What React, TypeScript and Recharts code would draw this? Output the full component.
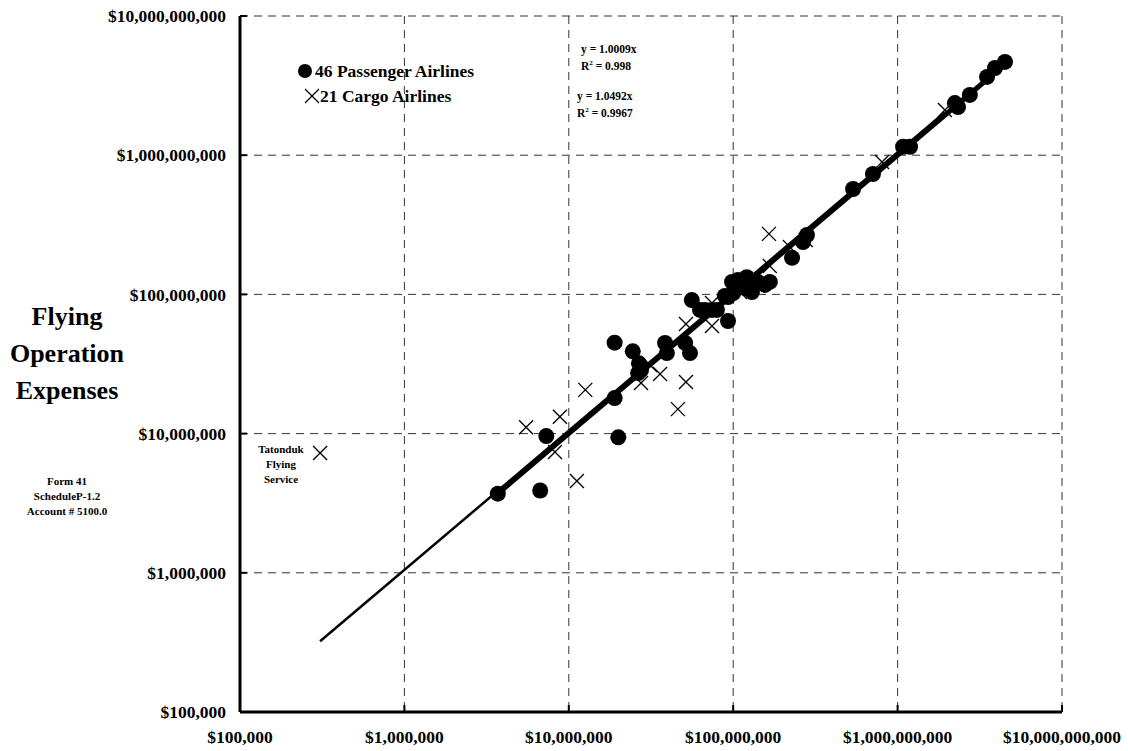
import React from "react"
import { ScatterChart, Scatter, XAxis, YAxis, CartesianGrid } from "recharts"

// [x, y] in dollars
const passengerAirlines: [number, number][] = [
  [3.7e6, 3.7e6], [6.7e6, 3.9e6], [7.3e6, 9.6e6], [2.0e7, 9.4e6], [1.9e7, 1.8e7],
  [1.9e7, 4.5e7], [2.45e7, 3.9e7], [2.67e7, 3.2e7], [2.75e7, 2.86e7], [2.64e7, 2.72e7],
  [3.85e7, 4.48e7], [3.95e7, 3.79e7], [5.1e7, 4.48e7], [5.46e7, 3.79e7], [5.6e7, 9.1e7],
  [6.28e7, 7.73e7], [6.73e7, 7.73e7], [7.43e7, 7.73e7], [7.96e7, 7.73e7], [9.3e7, 6.44e7],
  [8.9e7, 9.75e7], [9.3e7, 9.57e7], [9.84e7, 1.23e8], [1.0e8, 1.02e8], [1.07e8, 1.27e8],
  [1.1e8, 1.13e8], [1.18e8, 1.11e8], [1.21e8, 1.33e8], [1.26e8, 1.21e8], [1.3e8, 1.04e8],
  [1.41e8, 1.23e8], [1.56e8, 1.17e8], [1.67e8, 1.23e8], [2.28e8, 1.83e8], [2.66e8, 2.38e8],
  [2.81e8, 2.67e8], [5.36e8, 5.72e8], [7.08e8, 7.33e8], [1.08e9, 1.15e9], [1.19e9, 1.15e9],
  [2.23e9, 2.37e9], [2.33e9, 2.22e9], [2.75e9, 2.71e9], [3.5e9, 3.65e9], [3.91e9, 4.23e9],
  [4.5e9, 4.68e9],
]

const cargoAirlines: [number, number][] = [
  [3.07e5, 7.26e6], [5.5e6, 1.11e7], [8.83e6, 1.32e7], [1.26e7, 2.06e7], [8.24e6, 7.38e6],
  [1.12e7, 4.56e6], [2.75e7, 2.31e7], [3.59e7, 2.68e7], [5.16e7, 2.35e7], [4.61e7, 1.5e7],
  [5.16e7, 6.13e7], [7.43e7, 5.93e7], [7.43e7, 8.67e7], [3.12e7, 3.11e7], [1.1e8, 1.04e8],
  [1.65e8, 2.72e8], [1.67e8, 1.6e8], [2.21e8, 2.19e8], [2.76e8, 2.46e8], [8.04e8, 8.93e8],
  [1.94e9, 2.11e9],
]

// trend line end points
const passengerFit: [number, number][] = [[3.7e6, 3.7e6], [4.5e9, 4.5e9]]
const cargoFit: [number, number][] = [[3.07e5, 3.22e5], [1.94e9, 2.04e9]]

const axisTicks = [1e5, 1e6, 1e7, 1e8, 1e9, 1e10]

const toPoints = (rows: [number, number][]) => rows.map(([x, y]) => ({ x, y }))

const serif = "'Liberation Serif', 'Times New Roman', serif"
const money = (v: number) => "$" + Math.round(v).toString().replace(/\B(?=(\d{3})+(?!\d))/g, ",")

const XTick = ({ x, y, payload }: any) => (
  <g>
    <line x1={x} x2={x} y1={y} y2={y - 7} stroke="#000" strokeWidth={2} />
    <text x={x} y={y + 31} textAnchor="middle" fontFamily={serif} fontWeight="bold" fontSize={17.5} fill="#000">
      {money(payload.value)}
    </text>
  </g>
)

const YTick = ({ x, y, payload }: any) => (
  <g>
    <line x1={x} x2={x + 7} y1={y} y2={y} stroke="#000" strokeWidth={2} />
    <text x={x - 14} y={y} dy="0.35em" textAnchor="end" fontFamily={serif} fontWeight="bold" fontSize={17.5} fill="#000">
      {money(payload.value)}
    </text>
  </g>
)

const Dot = ({ cx, cy }: any) => <circle cx={cx} cy={cy} r={8} fill="#000" />

const Cross = ({ cx, cy }: any) => (
  <g stroke="#000" strokeWidth={1.3}>
    <line x1={cx - 7} y1={cy - 7} x2={cx + 7} y2={cy + 7} />
    <line x1={cx - 7} y1={cy + 7} x2={cx + 7} y2={cy - 7} />
  </g>
)

const NoShape = () => <g />

export default function App() {
  const small = { fontFamily: serif, fontWeight: "bold" as const, fontSize: 11, fill: "#000" }
  const eq = { fontFamily: serif, fontWeight: "bold" as const, fontSize: 11.5, fill: "#000" }
  return (
    <div style={{ position: "absolute", left: 0, top: 0, width: 1128, height: 751, background: "#fff" }}>
      <ScatterChart width={1128} height={751} margin={{ top: 16, right: 66, bottom: 0, left: 0 }}>
        <CartesianGrid stroke="#333" strokeDasharray="8 6" />
        <XAxis
          type="number"
          dataKey="x"
          scale="log"
          domain={[1e5, 1e10]}
          ticks={axisTicks}
          allowDataOverflow
          height={39}
          tickSize={0}
          tickMargin={0}
          tickLine={false}
          axisLine={{ stroke: "#000", strokeWidth: 3 }}
          tick={<XTick />}
        />
        <YAxis
          type="number"
          dataKey="y"
          scale="log"
          domain={[1e5, 1e10]}
          ticks={axisTicks}
          allowDataOverflow
          width={240}
          tickSize={0}
          tickMargin={0}
          tickLine={false}
          axisLine={{ stroke: "#000", strokeWidth: 3 }}
          tick={<YTick />}
        />
        <Scatter data={toPoints(cargoFit)} line={{ stroke: "#000", strokeWidth: 2.5 }} shape={NoShape} isAnimationActive={false} />
        <Scatter data={toPoints(passengerFit)} line={{ stroke: "#000", strokeWidth: 5 }} shape={NoShape} isAnimationActive={false} />
        <Scatter data={toPoints(passengerAirlines)} shape={Dot} isAnimationActive={false} />
        <Scatter data={toPoints(cargoAirlines)} shape={Cross} isAnimationActive={false} />
      </ScatterChart>

      <svg width={1128} height={751} style={{ position: "absolute", left: 0, top: 0, pointerEvents: "none" }}>
        <g fontFamily={serif} fontWeight="bold" fontSize={26} fill="#000" textAnchor="middle">
          <text x={67} y={325}>Flying</text>
          <text x={67} y={362}>Operation</text>
          <text x={67} y={399}>Expenses</text>
        </g>
        <g {...small} textAnchor="middle">
          <text x={67} y={485}>Form 41</text>
          <text x={67} y={500}>ScheduleP-1.2</text>
          <text x={67} y={515}>Account # 5100.0</text>
          <text x={281} y={453}>Tatonduk</text>
          <text x={281} y={468}>Flying</text>
          <text x={281} y={483}>Service</text>
        </g>

        <circle cx={305} cy={71} r={7} fill="#000" />
        <text x={315} y={71} dy="0.35em" fontFamily={serif} fontWeight="bold" fontSize={17.5} fill="#000">46 Passenger Airlines</text>
        <g stroke="#000" strokeWidth={1.3}>
          <line x1={305} y1={89} x2={319} y2={103} />
          <line x1={305} y1={103} x2={319} y2={89} />
        </g>
        <text x={320} y={96} dy="0.35em" fontFamily={serif} fontWeight="bold" fontSize={17.5} fill="#000">21 Cargo Airlines</text>

        <text x={581} y={49} dy="0.35em" {...eq}>y = 1.0009x</text>
        <text x={581} y={66} dy="0.35em" {...eq}>R<tspan fontSize={7} dy={-5}>2</tspan><tspan dy={5}> = 0.998</tspan></text>
        <text x={577} y={96} dy="0.35em" {...eq}>y = 1.0492x</text>
        <text x={577} y={113} dy="0.35em" {...eq}>R<tspan fontSize={7} dy={-5}>2</tspan><tspan dy={5}> = 0.9967</tspan></text>
      </svg>
    </div>
  )
}
